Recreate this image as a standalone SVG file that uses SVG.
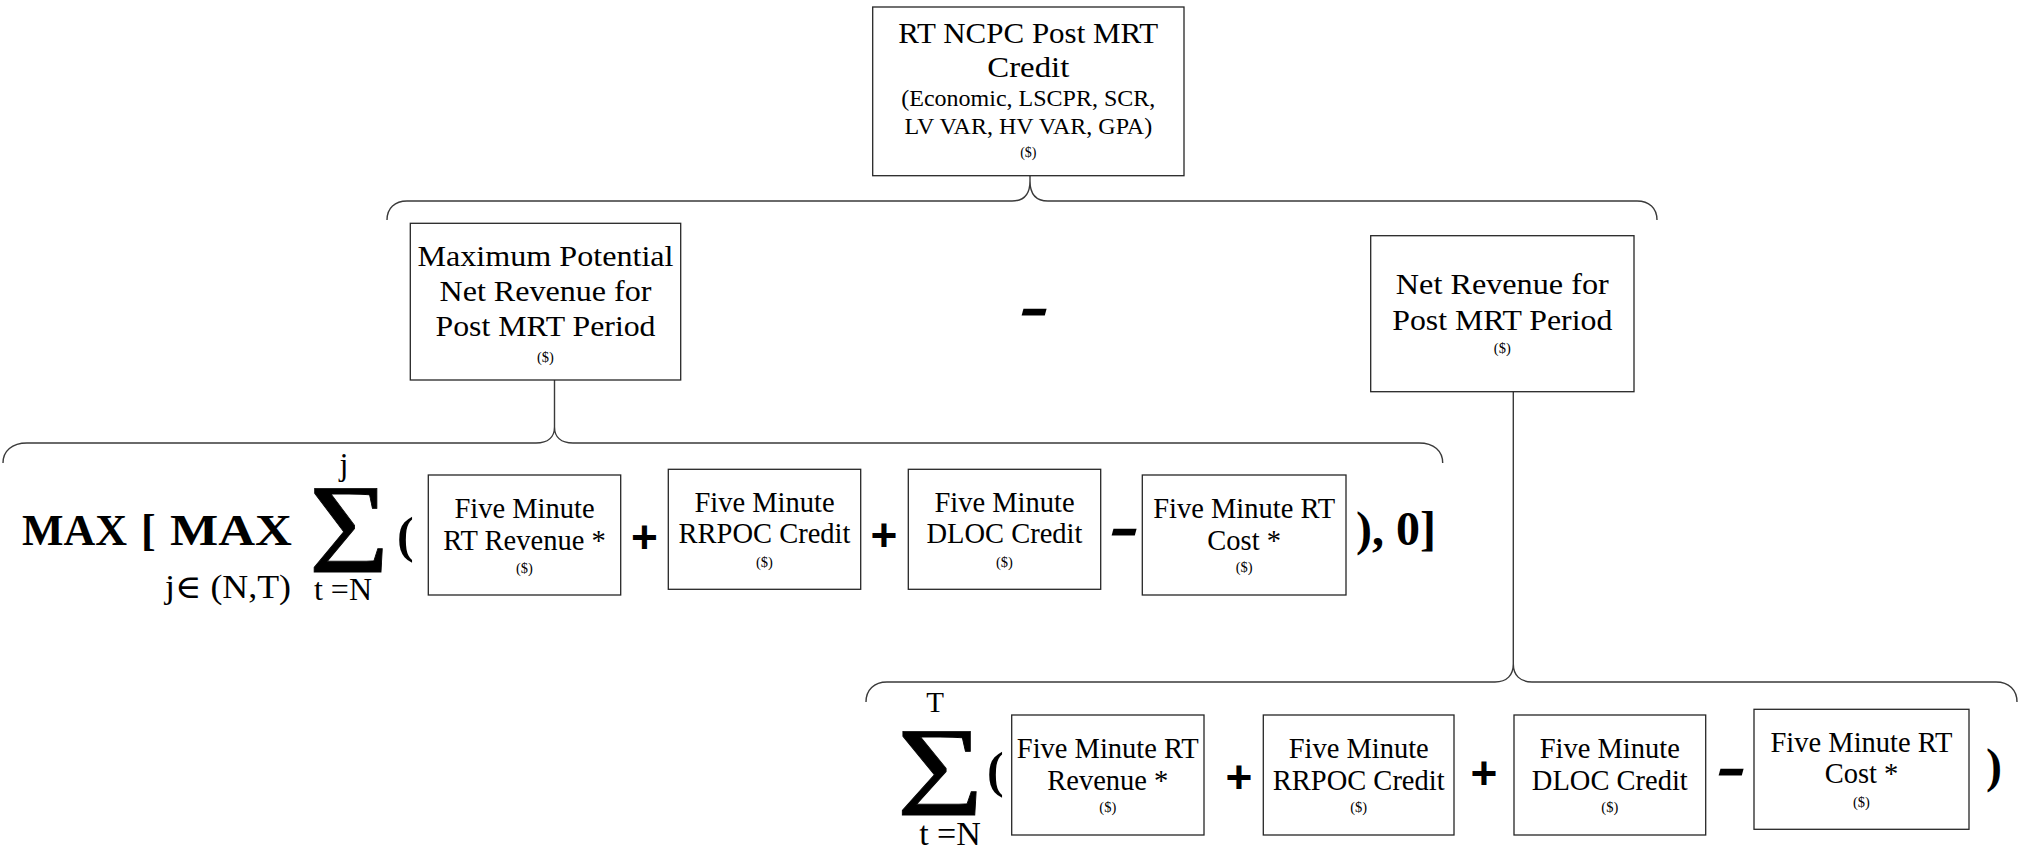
<svg xmlns="http://www.w3.org/2000/svg" width="2025" height="848" viewBox="0 0 2025 848">
  <style>
    .box { fill: #ffffff; stroke: #262626; stroke-width: 1.3; }
    .t { font-family: "Liberation Serif", "DejaVu Serif", serif; fill: #000000; text-anchor: middle; }
    .big { font-size: 30px; }
    .mid { font-size: 24px; }
    .std { font-size: 28.5px; }
    .cur { font-size: 14.5px; }
    .eq { font-family: "Liberation Serif", "DejaVu Serif", serif; fill: #000000; }
    .sig { stroke: #000000; stroke-width: 0.8; }
    .bold { font-weight: bold; }
    .op { font-family: "Liberation Sans", Arial, sans-serif; font-weight: bold; fill: #000000; text-anchor: middle; }
    .plus { font-size: 46px; }
    .dash { font-size: 57px; }
    .conn path { fill: none; stroke: #3a3a3a; stroke-width: 1.4; }
  </style>

  <!-- brace connectors -->
  <g id="connectors" class="conn">
    <path d="M1030,175.7 V181"/>
    <path d="M387,220 C387,208 395,201 407,201 L1012,201 C1024,201 1030,194 1030,181 C1030,194 1036,201 1048,201 L1637,201 C1649,201 1657,208 1657,220"/>
    <path d="M554.5,380 V427"/>
    <path d="M3,463 C3,451 12,443 27,443 L536,443 C548,443 554.5,437 554.5,427 C554.5,437 561,443 573,443 L1419,443 C1434,443 1442.7,451 1442.7,463"/>
    <path d="M1513.3,391.7 V664"/>
    <path d="M866,702 C866,690 874,682 887,682 L1495,682 C1507,682 1513.3,675 1513.3,664 C1513.3,675 1520,682 1532,682 L1996,682 C2009,682 2017,690 2017,702"/>
  </g>

  <!-- top level credit -->
  <g id="rt-ncpc-credit">
    <rect class="box" x="872.7" y="7" width="311.3" height="168.7"/>
    <text class="t big" x="1028.3" y="43" textLength="260" lengthAdjust="spacingAndGlyphs">RT NCPC Post MRT</text>
    <text class="t big" x="1028.3" y="77" textLength="82" lengthAdjust="spacingAndGlyphs">Credit</text>
    <text class="t mid" x="1028.3" y="106">(Economic, LSCPR, SCR,</text>
    <text class="t mid" x="1028.3" y="134">LV VAR, HV VAR, GPA)</text>
    <text class="t" font-size="14" x="1028.3" y="157">($)</text>
  </g>

  <g id="max-potential-net-revenue">
    <rect class="box" x="410.3" y="223.3" width="270.4" height="156.7"/>
    <text class="t big" x="545.5" y="266" textLength="256" lengthAdjust="spacingAndGlyphs">Maximum Potential</text>
    <text class="t big" x="545.5" y="300.7" textLength="212" lengthAdjust="spacingAndGlyphs">Net Revenue for</text>
    <text class="t big" x="545.5" y="336" textLength="220" lengthAdjust="spacingAndGlyphs">Post MRT Period</text>
    <text class="t cur" x="545.5" y="361.7">($)</text>
  </g>

  <g id="minus-top">
    <text class="op dash" transform="translate(1034,313) skewX(-15) scale(1.6,1)" y="14">-</text>
  </g>

  <g id="net-revenue">
    <rect class="box" x="1370.7" y="235.7" width="263.3" height="156"/>
    <text class="t big" x="1502.3" y="294" textLength="213" lengthAdjust="spacingAndGlyphs">Net Revenue for</text>
    <text class="t big" x="1502.3" y="330" textLength="220" lengthAdjust="spacingAndGlyphs">Post MRT Period</text>
    <text class="t cur" x="1502.3" y="353">($)</text>
  </g>

  <!-- MAX [ MAX sum ( ... ), 0] -->
  <g id="max-formula">
    <text class="eq bold" font-size="44" x="22" y="545">MAX</text>
    <text class="eq bold" font-size="44" x="141" y="545">[</text>
    <text class="eq bold" font-size="44" x="170" y="545" textLength="122" lengthAdjust="spacingAndGlyphs">MAX</text>
    <text class="eq" font-size="33" x="165" y="598" textLength="126" lengthAdjust="spacingAndGlyphs">j∈ (N,T)</text>
    <text class="eq" font-size="32" x="344" y="475" text-anchor="middle">j</text>
    <text class="eq sig" font-size="128" transform="translate(349,572) scale(1.08,1)" text-anchor="middle">Σ</text>
    <text class="eq" font-size="32" x="343" y="600" text-anchor="middle">t =N</text>
    <text class="eq bold" font-size="50" x="397" y="552">(</text>
    <text class="eq bold" font-size="48" x="1356" y="545">), 0]</text>
  </g>

  <g id="max-rt-revenue">
    <rect class="box" x="428.3" y="475" width="192.4" height="120"/>
    <text class="t std" x="524.5" y="518.3">Five Minute</text>
    <text class="t std" x="524.5" y="550">RT Revenue *</text>
    <text class="t cur" x="524.5" y="573">($)</text>
  </g>
  <text class="op plus" x="644.5" y="553">+</text>
  <g id="max-rrpoc-credit">
    <rect class="box" x="668.3" y="469.3" width="192.4" height="120"/>
    <text class="t std" x="764.5" y="511.7">Five Minute</text>
    <text class="t std" x="764.5" y="543.3">RRPOC Credit</text>
    <text class="t cur" x="764.5" y="566.7">($)</text>
  </g>
  <text class="op plus" x="884" y="551">+</text>
  <g id="max-dloc-credit">
    <rect class="box" x="908.3" y="469.3" width="192.4" height="120"/>
    <text class="t std" x="1004.5" y="511.7">Five Minute</text>
    <text class="t std" x="1004.5" y="543.3">DLOC Credit</text>
    <text class="t cur" x="1004.5" y="566.7">($)</text>
  </g>
  <text class="op dash" transform="translate(1124,533.3) skewX(-15) scale(1.6,1)" y="14">-</text>
  <g id="max-rt-cost">
    <rect class="box" x="1142.3" y="475" width="203.7" height="120"/>
    <text class="t std" x="1244.2" y="518.3">Five Minute RT</text>
    <text class="t std" x="1244.2" y="550">Cost *</text>
    <text class="t cur" x="1244.2" y="571.7">($)</text>
  </g>

  <!-- sum over t = N .. T -->
  <g id="sum-formula">
    <text class="eq" font-size="29" x="935" y="712" text-anchor="middle">T</text>
    <text class="eq sig" font-size="128" transform="translate(940,815) scale(1.17,1)" text-anchor="middle">Σ</text>
    <text class="eq" font-size="34" x="950" y="845" text-anchor="middle">t =N</text>
    <text class="eq bold" font-size="50" x="987" y="787">(</text>
    <text class="eq bold" font-size="48" x="1986" y="782">)</text>
  </g>

  <g id="sum-rt-revenue">
    <rect class="box" x="1011.7" y="715" width="192.3" height="120"/>
    <text class="t std" x="1107.8" y="758.3">Five Minute RT</text>
    <text class="t std" x="1107.8" y="790">Revenue *</text>
    <text class="t cur" x="1107.8" y="811.7">($)</text>
  </g>
  <text class="op plus" x="1239" y="792.7">+</text>
  <g id="sum-rrpoc-credit">
    <rect class="box" x="1263.3" y="715" width="190.7" height="120"/>
    <text class="t std" x="1358.7" y="758.3">Five Minute</text>
    <text class="t std" x="1358.7" y="790">RRPOC Credit</text>
    <text class="t cur" x="1358.7" y="811.7">($)</text>
  </g>
  <text class="op plus" x="1484" y="789">+</text>
  <g id="sum-dloc-credit">
    <rect class="box" x="1514" y="715" width="191.7" height="120"/>
    <text class="t std" x="1609.8" y="758.3">Five Minute</text>
    <text class="t std" x="1609.8" y="790">DLOC Credit</text>
    <text class="t cur" x="1609.8" y="811.7">($)</text>
  </g>
  <text class="op dash" transform="translate(1731,773.3) skewX(-15) scale(1.6,1)" y="14">-</text>
  <g id="sum-rt-cost">
    <rect class="box" x="1754" y="709.3" width="215" height="120"/>
    <text class="t std" x="1861.5" y="751.7">Five Minute RT</text>
    <text class="t std" x="1861.5" y="783.3">Cost *</text>
    <text class="t cur" x="1861.5" y="806.7">($)</text>
  </g>
</svg>
